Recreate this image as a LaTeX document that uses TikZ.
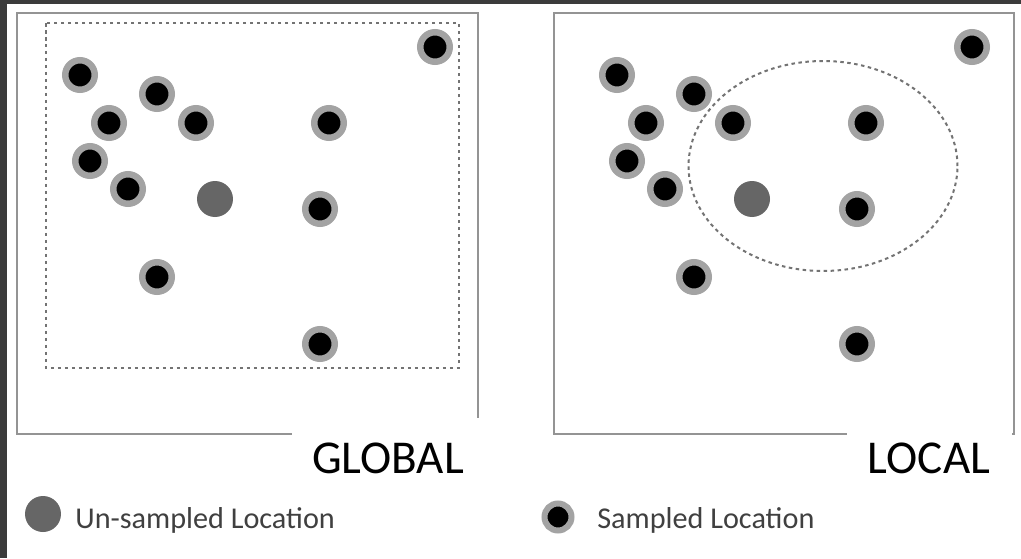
\documentclass[tikz,border=0pt]{standalone}
\usepackage{fontspec}
\setmainfont{Carlito}

\begin{document}
\begin{tikzpicture}[
    x=0.02cm, y=-0.02cm,
    frame/.style={draw=black!42, line width=0.04cm},
    zone/.style={draw=black!55, line width=0.04cm, dash pattern=on 0.07cm off 0.07cm},
    sampled/.style={circle, fill=black, draw=black!36, line width=0.13cm, minimum size=0.59cm, inner sep=0pt},
    unsampled/.style={circle, fill=black!60, minimum size=0.72cm, inner sep=0pt},
    title/.style={font=\fontsize{26.8}{32}\selectfont, text=black, inner sep=0pt},
    legtext/.style={font=\fontsize{17.2}{20}\selectfont, text=black!75, inner sep=0pt}
]
\useasboundingbox (0,0) rectangle (1021,558);
\fill[black!77] (0,0) rectangle (1021,558);
\fill[white] (7,4) rectangle (1021,558);

\draw[frame] (17,13) rectangle (478,434);
\draw[frame] (554,13) rectangle (1014,434);
\draw[zone] (46,23) rectangle (459,368);
\draw[zone] (823,166) ellipse [x radius=2.69cm, y radius=2.1cm];

\foreach \px/\py [count=\i] in {435/47, 80/75, 157/94, 109/123, 196/123, 329/123, 90/161, 128/189, 320/209, 157/277, 320/344} {
  \node[sampled] (g\i) at (\px,\py) {};
  \node[sampled] (l\i) at (\px+537,\py) {};
}
\node[unsampled] (gu) at (215,199) {};
\node[unsampled] (lu) at (752,199) {};

\fill[white] (292,418) rectangle (488,484);
\fill[white] (847,430) rectangle (1012,484);
\node[title, anchor=base] (global) at (388,473) {GLOBAL};
\node[title, anchor=base] (local) at (929,473) {LOCAL};

\node[unsampled] (ukey) at (43,514) {};
\node[legtext, anchor=base west] (ulabel) at (75,528) {Un-sampled Location};
\node[sampled, minimum size=0.54cm, line width=0.12cm] (skey) at (558,517) {};
\node[legtext, anchor=base west] (slabel) at (597,528) {Sampled Location};
\end{tikzpicture}
\end{document}
